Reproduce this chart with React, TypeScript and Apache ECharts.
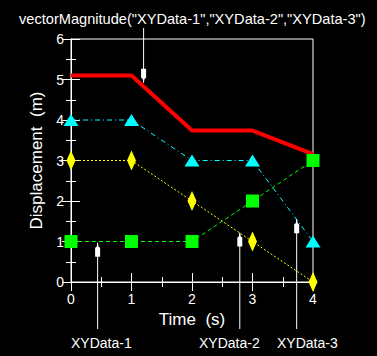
import React, { useEffect, useRef } from "react";
import * as echarts from "echarts";

const times = [0, 1, 2, 3, 4];
const xyData1 = [1, 1, 1, 2, 3];
const xyData2 = [3, 3, 2, 1, 0];
const xyData3 = [4, 4, 3, 3, 1];
const magnitude = [5.1, 5.1, 3.74, 3.74, 3.16];
const xTicks = { min: 0, max: 4, interval: 1 };
const yTicks = { min: 0, max: 6, interval: 1 };

const titleText = 'vectorMagnitude("XYData-1","XYData-2","XYData-3")';
const bottomLabels = ["XYData-1", "XYData-2", "XYData-3"];
// data points the arrows point at
const bottomTips: [number, number][] = [
  [0.44, 0.97],
  [2.79, 1.22],
  [3.73, 1.55],
];
const topTip: [number, number] = [1.2, 4.92];

const FONT = "'Liberation Sans', Arial, Helvetica, sans-serif";

const pairs = (ys: number[]) => times.map((t, i) => [t, ys[i]]);

export default function App() {
  const ref = useRef<HTMLDivElement>(null);
  useEffect(() => {
    if (!ref.current) return;
    const chart = echarts.init(ref.current, null, { renderer: "svg" });
    const axisCommon = {
      axisLine: { show: true, lineStyle: { color: "#fff", width: 1 } },
      axisTick: { show: true, inside: true, length: 9, lineStyle: { color: "#fff" } },
      minorTick: { show: true, splitNumber: 2, length: 5, lineStyle: { color: "#fff" } },
      splitLine: { show: false },
    };
    chart.setOption({
      animation: false,
      backgroundColor: "#000",
      grid: { left: 71, top: 39, right: 64, bottom: 74, show: false },
      xAxis: [
        {
          type: "value",
          ...xTicks,
          position: "bottom",
          ...axisCommon,
          axisLabel: { color: "#fff", fontSize: 14, fontFamily: FONT, margin: 10 },
          name: "Time  (s)",
          nameLocation: "middle",
          nameGap: 25,
          nameTextStyle: { color: "#fff", fontSize: 17, fontFamily: FONT },
        },
        {
          type: "value",
          ...xTicks,
          position: "top",
          ...axisCommon,
          axisLabel: { show: false },
        },
      ],
      yAxis: [
        {
          type: "value",
          ...yTicks,
          position: "left",
          ...axisCommon,
          axisLabel: { color: "#fff", fontSize: 14, fontFamily: FONT, margin: 7 },
          name: "Displacement  (m)",
          nameLocation: "middle",
          nameGap: 19,
          nameTextStyle: { color: "#fff", fontSize: 17, fontFamily: FONT },
        },
        {
          type: "value",
          ...yTicks,
          position: "right",
          ...axisCommon,
          axisLabel: { show: false },
        },
      ],
      series: [
        {
          type: "line",
          data: pairs(magnitude),
          showSymbol: false,
          symbol: "none",
          clip: false,
          lineStyle: { color: "#ff0000", width: 4 },
        },
        {
          type: "line",
          data: pairs(xyData3),
          symbol: "triangle",
          symbolSize: [15, 12],
          clip: false,
          itemStyle: { color: "#00ffff" },
          lineStyle: { color: "#00ffff", width: 1, type: [5, 3, 1, 3] },
        },
        {
          type: "line",
          data: pairs(xyData2),
          symbol: "diamond",
          symbolSize: [9, 20],
          clip: false,
          itemStyle: { color: "#ffff00" },
          lineStyle: { color: "#ffff00", width: 1, type: [2, 2] },
        },
        {
          type: "line",
          data: pairs(xyData1),
          symbol: "rect",
          symbolSize: [13, 13],
          clip: false,
          itemStyle: { color: "#00ff00" },
          lineStyle: { color: "#00ff00", width: 1, type: [4, 3] },
        },
      ],
    });

    const toPx = (p: [number, number]) =>
      chart.convertToPixel({ gridIndex: 0 }, p) as number[];
    const [x0, yTop] = toPx([xTicks.min, yTicks.max]);
    const [x1, yBot] = toPx([xTicks.max, yTicks.min]);

    const graphic: any[] = [
      {
        type: "rect",
        shape: { x: x0, y: yTop, width: x1 - x0, height: yBot - yTop },
        style: { fill: "none", stroke: "#fff", lineWidth: 1 },
        z: 1,
      },
    ];
    const arrowUp = (x: number, tip: number) => ({
      type: "polygon",
      shape: {
        points: [
          [x, tip],
          [x + 1, tip + 4],
          [x + 2.5, tip + 5],
          [x + 2.5, tip + 14],
          [x - 2.5, tip + 14],
          [x - 2.5, tip + 5],
          [x - 1, tip + 4],
        ],
      },
      style: { fill: "#fff" },
      z: 10,
    });
    const arrowDown = (x: number, tip: number) => ({
      type: "polygon",
      shape: {
        points: [
          [x, tip],
          [x + 1, tip - 4],
          [x + 2.5, tip - 5],
          [x + 2.5, tip - 14],
          [x - 2.5, tip - 14],
          [x - 2.5, tip - 5],
          [x - 1, tip - 4],
        ],
      },
      style: { fill: "#fff" },
      z: 10,
    });
    const tailY = 329;
    const labelLefts = [71, 199, 277];
    bottomTips.forEach((tp, i) => {
      const [px, py] = toPx(tp);
      graphic.push({
        type: "line",
        shape: { x1: px, y1: py, x2: px, y2: tailY },
        style: { stroke: "#fff", lineWidth: 1 },
        z: 10,
      });
      graphic.push(arrowUp(px, py));
      graphic.push({
        type: "text",
        style: {
          text: bottomLabels[i],
          x: labelLefts[i],
          y: 343,
          fill: "#fff",
          font: `14px ${FONT}`,
          textAlign: "left",
          textVerticalAlign: "middle",
        },
        z: 10,
      });
    });
    const [tx, ty] = toPx(topTip);
    graphic.push({
      type: "line",
      shape: { x1: tx, y1: 28, x2: tx, y2: ty },
      style: { stroke: "#fff", lineWidth: 1 },
      z: 10,
    });
    graphic.push(arrowDown(tx, ty));
    graphic.push({
      type: "text",
      style: {
        text: titleText,
        x: 19,
        y: 19,
        fill: "#fff",
        font: `14.6px ${FONT}`,
        textAlign: "left",
        textVerticalAlign: "middle",
      },
      z: 10,
    });
    chart.setOption({ graphic });

    return () => chart.dispose();
  }, []);
  return (
    <div
      ref={ref}
      style={{ position: "absolute", left: 0, top: 0, width: 377, height: 356 }}
    />
  );
}
